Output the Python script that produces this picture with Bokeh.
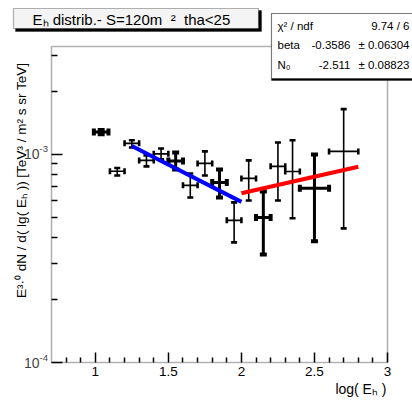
import math
from bokeh.plotting import figure
from bokeh.models import (ColumnDataSource, Whisker, TeeHead, Label, BoxAnnotation,
                          FixedTicker, CustomJSTickFormatter, Range1d)
from bokeh.embed import file_html
from bokeh.resources import INLINE

# ---------------- data ----------------
energy = [1.04, 1.15, 1.25, 1.35, 1.45, 1.55, 1.65, 1.75, 1.85, 1.95,
          2.05, 2.15, 2.25, 2.35, 2.50, 2.70]
half_width = [0.05] * 14 + [0.10, 0.10]
flux = [1.28e-3, 8.3e-4, 1.13e-3, 9.36e-4, 1.006e-3, 9.3e-4, 7.1e-4, 9.05e-4,
        7.33e-4, 4.82e-4, 7.67e-4, 4.98e-4, 8.76e-4, 8.28e-4, 6.87e-4, 1.034e-3]
flux_low = [1.25e-3, 7.92e-4, 1.08e-3, 8.76e-4, 9.46e-4, 8.47e-4, 6.21e-4, 7.92e-4,
            6.21e-4, 3.78e-4, 6.0e-4, 3.3e-4, 6.0e-4, 4.93e-4, 3.82e-4, 4.41e-4]
flux_high = [1.31e-3, 8.6e-4, 1.17e-3, 9.89e-4, 1.068e-3, 1.022e-3, 8.1e-4, 1.034e-3,
             8.47e-4, 5.88e-4, 9.36e-4, 6.64e-4, 1.14e-3, 1.17e-3, 1.0e-3, 1.65e-3]
heavy = [1, 0, 0, 0, 0, 1, 0, 0, 1, 0, 0, 1, 0, 0, 1, 0]

# fit 1 (blue): log10(y) = N0 + beta * x
fit1_N0, fit1_beta, fit1_range = -2.511, -0.3586, [1.25, 2.0]
# fit 2 (red)
fit2_N0, fit2_beta, fit2_range = -3.507, 0.16, [2.0, 2.8]

x_ticks = [1.0, 1.5, 2.0, 2.5, 3.0]
x_minor = [0.8, 0.9, 1.1, 1.2, 1.3, 1.4, 1.6, 1.7, 1.8, 1.9,
           2.1, 2.2, 2.3, 2.4, 2.6, 2.7, 2.8, 2.9]
y_ticks = [1e-4, 1e-3]
y_tick_exp = ["-4", "-3"]
y_minor = [2e-4, 3e-4, 4e-4, 5e-4, 6e-4, 7e-4, 8e-4, 9e-4, 2e-3, 3e-3]

title_text = "E\u2095 distrib.- S=120m\u00a0\u00a0\u00b2\u00a0\u00a0tha<25"
stats_rows = [("\u03c7\u00b2 / ndf", "", "9.74 / 6"),
              ("beta", "-0.3586", "\u00b1 0.06304"),
              ("N\u2080", "-2.511", "\u00b1 0.08823")]
ylabel = "E\u00b3\u00b7\u2070 dN / d( lg( E\u2095 ))  [TeV\u00b3 / m\u00b2 s sr TeV]"
xlabel = "log( E\u2095 )"

# ---------------- layout ----------------
W, H = 412, 402
FL, FR, FT, FB = 51, 387, 46, 362          # visible axes box, canvas pixels
XMIN, XMAX = 0.7, 3.0
YMIN, YMAX = 1e-4, 3.3e-3
LYMIN, LYMAX = math.log10(YMIN), math.log10(YMAX)
sx = (XMAX - XMIN) / (FR - FL)              # data per pixel
sy = (LYMAX - LYMIN) / (FB - FT)            # decades per pixel

FONT = "Liberation Sans"

# the frame covers the whole canvas so that texts and boxes are never clipped;
# axes are pinned at the visible axes box via fixed_location
p = figure(width=W, height=H, output_backend="svg", toolbar_location=None,
           y_axis_type="log",
           x_range=Range1d(XMIN - FL * sx, XMAX + (W - FR) * sx),
           y_range=Range1d(10 ** (LYMIN - (H - FB) * sy), 10 ** (LYMAX + FT * sy)),
           min_border=0)
p.background_fill_color = "white"
p.border_fill_color = "white"
p.outline_line_color = None
p.grid.visible = False

xa = p.xaxis[0]
xa.fixed_location = YMIN
xa.ticker = FixedTicker(ticks=x_ticks, minor_ticks=x_minor)
xa.formatter = CustomJSTickFormatter(code="return String(Math.round(tick*100)/100)")
xa.axis_line_color = None
xa.major_tick_in = 10
xa.major_tick_out = 0
xa.minor_tick_in = 5
xa.minor_tick_out = 0
xa.major_tick_line_width = 1.5
xa.minor_tick_line_width = 1.5
xa.major_label_standoff = 4
xa.major_label_text_font = FONT
xa.major_label_text_font_size = "13.5px"
xa.major_label_text_color = "black"

ya = p.yaxis[0]
ya.fixed_location = XMIN
ya.ticker = FixedTicker(ticks=y_ticks, minor_ticks=y_minor)
ya.axis_line_color = None
ya.major_tick_in = 11
ya.major_tick_out = 0
ya.minor_tick_in = 6
ya.minor_tick_out = 0
ya.major_tick_line_width = 1.5
ya.minor_tick_line_width = 1.5
ya.major_label_text_color = None
ya.major_label_text_font_size = "1px"

# axes box
p.add_layout(BoxAnnotation(left=XMIN, right=XMAX, bottom=YMIN, top=YMAX,
                           fill_alpha=0, line_color="black", line_width=1.6))

# ---------------- data marks ----------------
for flag, lw, cap in [(0, 1.6, 6), (1, 3.0, 7)]:
    idx = [i for i, h in enumerate(heavy) if h == flag]
    src = ColumnDataSource(dict(
        x=[energy[i] for i in idx],
        y=[flux[i] for i in idx],
        xlo=[energy[i] - half_width[i] for i in idx],
        xhi=[energy[i] + half_width[i] for i in idx],
        ylo=[flux_low[i] for i in idx],
        yhi=[flux_high[i] for i in idx]))
    p.add_layout(Whisker(source=src, base="x", lower="ylo", upper="yhi",
                         dimension="height", line_color="black", line_width=lw,
                         upper_head=TeeHead(size=cap, line_width=lw + 1),
                         lower_head=TeeHead(size=cap, line_width=lw + 1)))
    p.add_layout(Whisker(source=src, base="y", lower="xlo", upper="xhi",
                         dimension="width", line_color="black", line_width=lw,
                         upper_head=TeeHead(size=cap, line_width=lw + 1),
                         lower_head=TeeHead(size=cap, line_width=lw + 1)))

f1x = fit1_range
f1y = [10 ** (fit1_N0 + fit1_beta * v) for v in f1x]
f2x = fit2_range
f2y = [10 ** (fit2_N0 + fit2_beta * v) for v in f2x]
p.line(f1x, f1y, line_color="#0000ff", line_width=4)
p.line(f2x, f2y, line_color="#ff0000", line_width=4)

# ---------------- boxes (canvas pixel units) ----------------
def box(l, r, t, b, fill, lw=1.2):
    p.add_layout(BoxAnnotation(left=l, right=r, top=t, bottom=b,
                               left_units="canvas", right_units="canvas",
                               top_units="canvas", bottom_units="canvas",
                               fill_color=fill, fill_alpha=1, line_color="black",
                               line_width=lw))

box(15, 261, 10, 31, "black")
box(13, 258, 8, 28, "#f4f4f4")
box(271, 430, 13, 80, "black")
box(271, 428, 13, 78, "white")

def lab(x, y, text, size, align="left", baseline="middle", angle=0):
    p.add_layout(Label(x=x, y=y, x_units="canvas", y_units="canvas", text=text,
                       text_font=FONT, text_font_size=size, text_align=align,
                       text_baseline=baseline, angle=angle, text_color="black"))

lab(32, 18.5, title_text, "15px")

row_y = [25, 44, 64]
for (name, val, err), ry in zip(stats_rows, row_y):
    lab(277, ry, name, "11.5px")
    if val:
        lab(350, ry, val, "11.5px", align="right")
    lab(409, ry, err, "11.5px", align="right")

# y tick labels: "10" with exponent, placed at the tick values
for v, e in zip(y_ticks, y_tick_exp):
    p.add_layout(Label(x=XMIN, y=v, text="10", text_font=FONT, text_font_size="14px",
                       text_align="right", text_baseline="middle", x_offset=-12))
    p.add_layout(Label(x=XMIN, y=v, text=e, text_font=FONT, text_font_size="9.5px",
                       text_align="left", text_baseline="bottom", x_offset=-12, y_offset=2))

# axis titles
lab(21, 178, ylabel, "13.5px", align="center", angle=math.pi / 2)
lab(386, 388, xlabel, "14px", align="right")

open("out.html", "w").write(file_html(p, INLINE))
